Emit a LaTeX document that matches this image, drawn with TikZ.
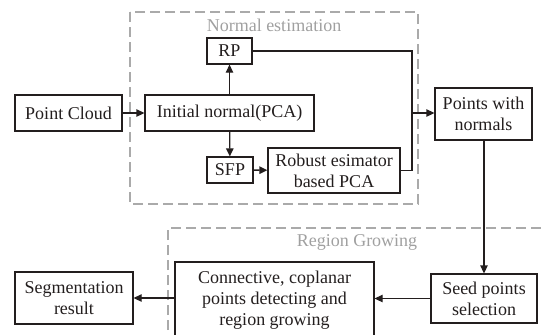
\documentclass[tikz,border=0pt]{standalone}
\usepackage{fontspec}
\setmainfont{Liberation Serif}
\usetikzlibrary{arrows.meta}
\definecolor{ink}{RGB}{35,30,30}
\definecolor{dashgray}{RGB}{170,170,170}
\definecolor{labgray}{RGB}{160,160,160}
\begin{document}
\begin{tikzpicture}[x=1pt,y=-1pt,
  box/.style={draw=ink, text=ink, line width=1.3pt, inner sep=0pt, align=center,
    font=\fontsize{18}{21}\selectfont},
  group/.style={draw=dashgray, line width=1.1pt, dash pattern=on 10pt off 5pt},
  grouplabel/.style={text=labgray, font=\fontsize{18}{21}\selectfont, inner sep=0pt},
  conn/.style={draw=ink, line width=1.3pt},
  arr/.style={conn, -{Triangle[length=8pt,width=7.5pt]}}]
\useasboundingbox (0,0) rectangle (542,335);
% group frames
\draw[group] (130,12) rectangle (418,204);
\node[grouplabel] (lab1) at (274,25) {Normal estimation};
\draw[group] (168,345) -- (168,228) -- (560,228);
\node[grouplabel] (lab2) at (357,242) {Region Growing};
% boxes
\node[box, minimum width=107pt, minimum height=36pt] (pc) at (68.5,113) {Point Cloud};
\node[box, minimum width=169pt, minimum height=36pt] (init) at (229.5,113) {Initial normal(PCA)};
\node[box, minimum width=45pt, minimum height=26pt] (rp) at (229.5,51) {RP};
\node[box, minimum width=46pt, minimum height=26pt] (sfp) at (230,170) {SFP};
\node[box, minimum width=132pt, minimum height=45pt] (rob) at (334,170.5) {Robust esimator\\based PCA};
\node[box, minimum width=97pt, minimum height=52pt] (pwn) at (483.5,114) {Points with\\normals};
\node[box, minimum width=106pt, minimum height=49pt] (seed) at (484,298.5) {Seed points\\selection};
\node[box, minimum width=199pt, minimum height=76pt] (conn) at (274.5,300) {Connective, coplanar\\points detecting and\\region growing};
\node[box, minimum width=118pt, minimum height=52pt] (seg) at (74,298) {Segmentation\\result};
% connectors
\coordinate (jt) at (412,51);
\coordinate (jb) at (412,170.5);
\coordinate (jm) at (412,113);
\draw[arr] (pc) -- (init);
\draw[arr] (init) -- (rp);
\draw[arr] (init) -- (sfp);
\draw[arr] (sfp) -- (rob);
\draw[conn] (rp.east) -- (jt) -- (jb) -- (rob.east);
\draw[arr] (jm) -- (pwn.west |- jm);
\draw[arr] (pwn.south -| seed.north) -- (seed.north);
\draw[arr] (seed.west) -- (conn.east |- seed.west);
\draw[arr] (conn.west |- seg.east) -- (seg.east);
\end{tikzpicture}
\end{document}
